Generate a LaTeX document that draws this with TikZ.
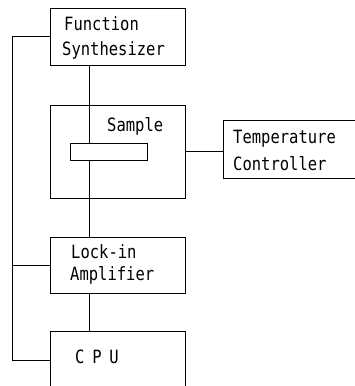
\documentclass[tikz,border=0pt]{standalone}
\usepackage{fontspec}
\setmonofont{DejaVu Sans Mono}
\newcommand{\tallt}[1]{\scalebox{1}[1.18]{#1}}
\begin{document}
\begin{tikzpicture}[x=1pt,y=-1pt,
  box/.style={draw,line width=1pt,rectangle,inner sep=0pt},
  lbl/.style={anchor=base west,inner sep=0pt,font=\ttfamily\fontsize{15.5}{15.5}\selectfont},
  wire/.style={line width=1pt}]
\useasboundingbox (0,0) rectangle (355,386);
% boxes
\node[box,minimum width=135pt,minimum height=57pt] (fs) at (117.5,36.5) {};
\node[box,minimum width=135pt,minimum height=93pt] (samp) at (117.5,151.5) {};
\node[box,minimum width=77pt,minimum height=17pt] (inner) at (108.5,151.5) {};
\node[box,minimum width=136pt,minimum height=58pt] (tc) at (291,149) {};
\node[box,minimum width=135pt,minimum height=56pt] (lock) at (117.5,265) {};
\node[box,minimum width=135pt,minimum height=58pt] (cpu) at (117.5,360) {};
% labels
\node[lbl] (t1) at (64,30) {\tallt{Function}};
\node[lbl] (t2) at (62,55) {\tallt{Synthesizer}};
\node[lbl] (t3) at (107,131) {\tallt{Sample}};
\node[lbl] (t4) at (233,143) {\tallt{Temperature}};
\node[lbl] (t5) at (233,170) {\tallt{Controller}};
\node[lbl] (t6) at (71,258) {\tallt{Lock-in}};
\node[lbl] (t7) at (70,280) {\tallt{Amplifier}};
\node[lbl,font=\ttfamily\fontsize{15.5}{15.5}\selectfont\addfontfeature{LetterSpace=50}] (t8) at (75,363) {\tallt{CPU}};
% connectors
\coordinate (bx) at (89,0);
\coordinate (lx) at (12,0);
\draw[wire] (fs.south -| bx) -- (inner.north -| bx);
\draw[wire] (inner.south -| bx) -- (lock.north -| bx);
\draw[wire] (lock.south -| bx) -- (cpu.north -| bx);
\draw[wire] (samp.east |- inner.east) -- (tc.west |- inner.east);
\draw[wire] (fs.west) -- (fs.west -| lx) -- (cpu.west -| lx) -- (cpu.west);
\draw[wire] (lock.west -| lx) -- (lock.west);
\end{tikzpicture}
\end{document}
